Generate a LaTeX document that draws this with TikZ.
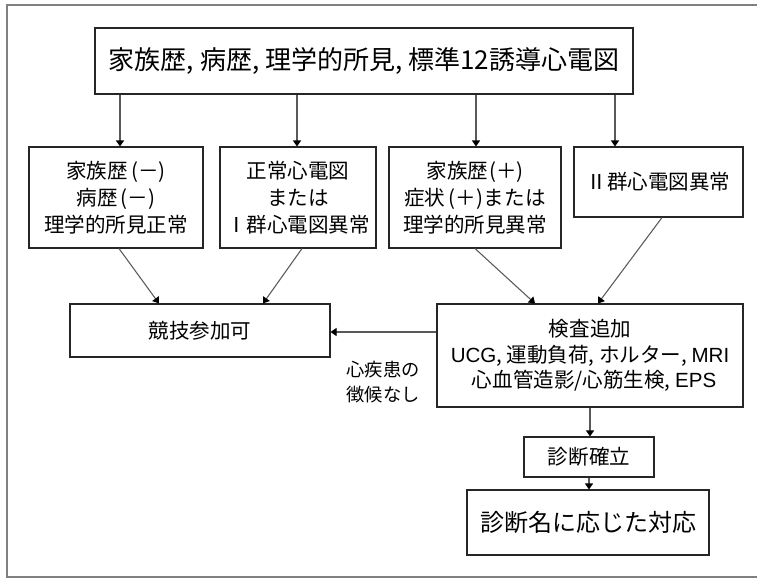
\documentclass[tikz,border=0pt]{standalone}
\usepackage{fontspec}
\setmainfont{Noto Sans CJK JP}
\newfontfamily\latf{Liberation Sans}
\usetikzlibrary{arrows.meta}
\newcommand\pxu[1]{#1*0.75pt}
\begin{document}
\begin{tikzpicture}[x=0.75pt,y=-0.75pt,
  box/.style={draw=black!85,line width=0.8pt,inner sep=0pt,align=center},
  rowfont/.style={font=\fontsize{15.4}{20.25}\selectfont},
  arr/.style={draw=black!65,line width=0.8pt,-{Triangle[width=6pt,length=4.5pt,color=black]}},
  frame/.style={draw=black!50,line width=1.6pt}]
\useasboundingbox (0,0) rectangle (757,578);
\draw[frame] (757,5) -- (7,5) -- (7,577) -- (757,577);

\node[box,minimum width={\pxu{538}},minimum height={\pxu{66}},font=\fontsize{19.5}{24}\selectfont] (top) at (364,61) {家族歴, 病歴, 理学的所見, 標準12誘導心電図};

\node[box,rowfont,minimum width={\pxu{174}},minimum height={\pxu{101}}] (A) at (116,197.5) {家族歴\hspace{0.15em}(－)\\病歴\hspace{0.15em}(－)\\理学的所見正常};
\node[box,rowfont,minimum width={\pxu{156}},minimum height={\pxu{101}}] (B) at (298,197.5) {正常心電図\\または\\Ⅰ群心電図異常};
\node[box,rowfont,minimum width={\pxu{172}},minimum height={\pxu{101}}] (C) at (475,197.5) {家族歴\hspace{0.05em}(＋)\\症状\hspace{0.15em}(＋)\hspace{0.05em}または\\理学的所見異常};
\node[box,rowfont,minimum width={\pxu{169}},minimum height={\pxu{70}}] (D) at (658.5,182) {Ⅱ群心電図異常};

\node[box,rowfont,minimum width={\pxu{260}},minimum height={\pxu{53}}] (E) at (200,330.5) {競技参加可};
\node[box,font=\fontsize{15.4}{19}\selectfont,minimum width={\pxu{306}},minimum height={\pxu{103}}] (F) at (590,355.5) {検査追加\\{\latf UCG}, 運動負荷, ホルター, {\latf MRI}\\\hspace{0.4em}心血管造影/心筋生検, {\latf EPS}};
\node[box,rowfont,minimum width={\pxu{130}},minimum height={\pxu{40}}] (G) at (589,457) {診断確立};
\node[box,font=\fontsize{18}{22}\selectfont,minimum width={\pxu{242}},minimum height={\pxu{65}}] (H) at (588,522.5) {診断名に応じた対応};

\node[align=center,inner sep=0pt,font=\fontsize{13.7}{18.75}\selectfont] (lbl) at (383,382) {心疾患の\\徴候なし};

\coordinate (xa) at (120,0);
\coordinate (xb) at (297,0);
\coordinate (xc) at (476,0);
\coordinate (xd) at (615,0);
\draw[arr] (top.south -| xa) -- (A.north -| xa);
\draw[arr] (top.south -| xb) -- (B.north -| xb);
\draw[arr] (top.south -| xc) -- (C.north -| xc);
\draw[arr] (top.south -| xd) -- (D.north -| xd);

\coordinate (a1) at (119,0);
\coordinate (e1) at (159,0);
\coordinate (b1) at (302,0);
\coordinate (e2) at (263,0);
\coordinate (c1) at (475,0);
\coordinate (f1) at (535,0);
\coordinate (d1) at (662,0);
\coordinate (f2) at (598,0);
\draw[arr] (A.south -| a1) -- (E.north -| e1);
\draw[arr] (B.south -| b1) -- (E.north -| e2);
\draw[arr] (C.south -| c1) -- (F.north -| f1);
\draw[arr] (D.south -| d1) -- (F.north -| f2);

\coordinate (ly) at (0,332);
\draw[arr] (F.west |- ly) -- (E.east |- ly);
\draw[arr] (F.south) -- (F.south |- G.north);
\draw[arr] (G.south) -- (G.south |- H.north);
\end{tikzpicture}
\end{document}
